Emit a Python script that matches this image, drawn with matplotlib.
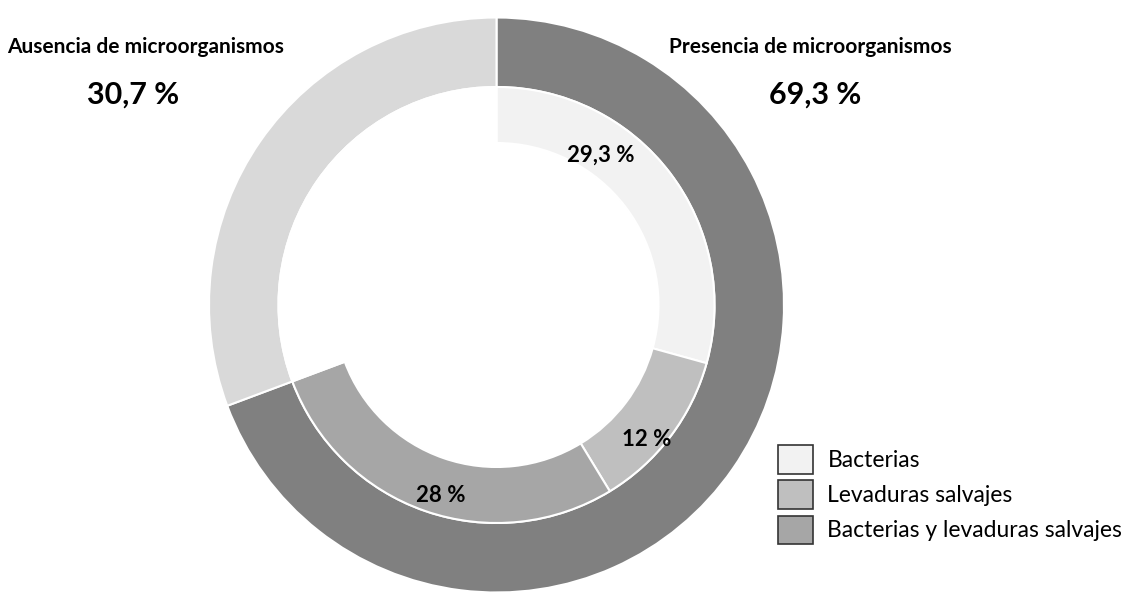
import matplotlib.pyplot as plt
from matplotlib.patches import Patch

plt.rcParams['font.family'] = ['Lato', 'DejaVu Sans']

outer_labels = ['Presencia de microorganismos', 'Ausencia de microorganismos']
outer_values = [69.3, 30.7]
outer_colors = ['#808080', '#d9d9d9']

inner_labels = ['Bacterias', 'Levaduras salvajes', 'Bacterias y levaduras salvajes']
inner_values = [29.3, 12, 28]
inner_colors = ['#f2f2f2', '#bfbfbf', '#a6a6a6']
inner_text = ['29,3 %', '12 %', '28 %']

W, H = 1133, 602
fig = plt.figure(figsize=(W / 100, H / 100), dpi=100)
ax = fig.add_axes([0, 0, 1, 1])

cx, cy = 496.5, H - 305  # centro del anillo
R = 287.5

ax.pie(outer_values, colors=outer_colors, startangle=90, counterclock=False,
       radius=R, center=(cx, cy), wedgeprops=dict(width=R - 218, edgecolor='white', linewidth=1.5))

# el resto del anillo interior queda en blanco
ax.pie(inner_values + [100 - sum(inner_values)], colors=inner_colors + ['white'],
       startangle=90, counterclock=False, radius=218, center=(cx, cy),
       wedgeprops=dict(width=218 - 162, edgecolor='white', linewidth=1.5))

ax.set_xlim(0, W)
ax.set_ylim(0, H)
ax.set_aspect('equal')
ax.axis('off')

# etiquetas del anillo interior
pos = [(601, 155), (647, 440), (441, 495)]
for t, (x, y) in zip(inner_text, pos):
    ax.text(x, H - y, t, ha='center', va='center', fontsize=16, fontweight='bold')

ax.text(146, H - 47, outer_labels[1], ha='center', va='center', fontsize=15, fontweight='bold')
ax.text(133, H - 95, '30,7 %', ha='center', va='center', fontsize=22, fontweight='bold')
ax.text(810, H - 47, outer_labels[0], ha='center', va='center', fontsize=15, fontweight='bold')
ax.text(815, H - 95, '69,3 %', ha='center', va='center', fontsize=22, fontweight='bold')

handles = [Patch(facecolor=c, edgecolor='#333333', linewidth=1.2) for c in inner_colors]
fig.legend(handles, inner_labels, loc='upper left', bbox_to_anchor=(769 / W, 1 - 436 / H),
           frameon=False, fontsize=16.5, handlelength=1.53, handleheight=1.53,
           labelspacing=0.3, handletextpad=0.62, borderaxespad=0)

fig.savefig('out.png', dpi=100)
